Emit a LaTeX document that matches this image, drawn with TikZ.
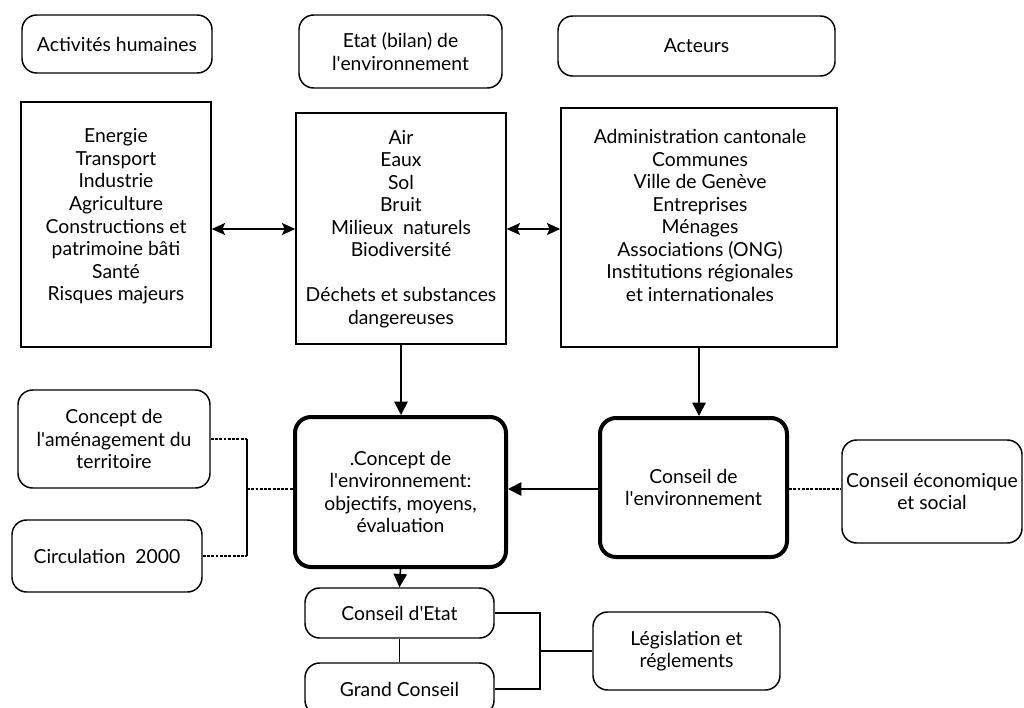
\documentclass[tikz,border=0pt]{standalone}
\usepackage{fontspec}
\setmainfont{Lato}
\usetikzlibrary{arrows.meta}
\newcommand{\ap}{\textquotesingle}
\begin{document}
\begin{tikzpicture}[
  x=0.75pt, y=-0.75pt,
  every node/.style={font=\fontsize{14.5}{16.9}\selectfont, align=center, inner sep=0pt},
  roundbox/.style={draw, line width=1.1pt, rounded corners=11pt},
  plainbox/.style={draw, line width=1.1pt},
  keybox/.style={draw, line width=3pt, rounded corners=12pt},
  listtext/.style={},
  link/.style={line width=1.2pt},
  dashlink/.style={line width=1.1pt, dash pattern=on 2.2pt off 1pt},
  arrowlink/.style={line width=1.2pt, -{Triangle[length=10pt,width=10pt]}},
  biarrow/.style={line width=1.2pt, {Stealth[length=10pt,width=9pt,inset=2pt]}-{Stealth[length=10pt,width=9pt,inset=2pt]}}
]
\clip (0,0) rectangle (1024,707);
\fill[white] (0,0) rectangle (1024,707);

% column headings
\node[roundbox, minimum width=142.5pt, minimum height=43.5pt] (activites) at (117,44) {Activités humaines};
\node[roundbox, minimum width=152.25pt, minimum height=54.75pt] (etat) at (400.5,51.5) {Etat (bilan) de\\l\ap environnement};
\node[roundbox, minimum width=207.75pt, minimum height=45pt] (acteurs) at (696.5,46) {Acteurs};

% the three lists
\node[plainbox, minimum width=142.5pt, minimum height=183.75pt] (secteurs) at (116,224.5) {};
\node[listtext] (secteurs-list) at (116,216.5) {Energie\\Transport\\Industrie\\Agriculture\\Constructions et\\patrimoine bâti\\Santé\\Risques majeurs};

\node[plainbox, minimum width=157.5pt, minimum height=173.25pt] (milieux) at (401,228.5) {};
\node[listtext] (milieux-list) at (401,229) {Air\\Eaux\\Sol\\Bruit\\Milieux\ \ naturels\\Biodiversité\\[16.9pt]Déchets et substances\\dangereuses};

\node[plainbox, minimum width=207pt, minimum height=179.25pt] (partenaires) at (699,227.5) {};
\node[listtext] (partenaires-list) at (700,215.5) {Administration cantonale\\Communes\\Ville de Genève\\Entreprises\\Ménages\\Associations (ONG)\\Institutions régionales\\et internationales};

\coordinate (row) at (0,229);
\draw[biarrow] (secteurs.east |- row) -- (milieux.west |- row);
\draw[biarrow] (milieux.east |- row) -- (partenaires.west |- row);

% central concept and councils
\node[keybox, minimum width=158.25pt, minimum height=112.5pt] (concept) at (400.5,492) {.Concept de\\l\ap environnement:\\objectifs,\ moyens,\\évaluation};
\node[keybox, minimum width=140.25pt, minimum height=104.25pt] (conseil) at (693.5,487.5) {Conseil de\\l\ap environnement};
\node[roundbox, minimum width=135pt, minimum height=77.25pt] (eco) at (932,491.5) {Conseil économique\\et social};

\node[roundbox, minimum width=144pt, minimum height=73.5pt] (amenagement) at (114,439) {Concept de\\l\ap aménagement du\\territoire};
\node[roundbox, minimum width=142.5pt, minimum height=54pt] (circulation) at (107,556) {Circulation\ \ 2000};

\coordinate (row2) at (0,489);
\coordinate (join) at (247,489);
\draw[dashlink] (amenagement.east) -- (amenagement.east -| join);
\draw[link] (amenagement.east -| join) -- (circulation.east -| join);
\draw[dashlink] (circulation.east) -- (circulation.east -| join);
\draw[dashlink] (join) -- (concept.west |- join);

\draw[arrowlink] (milieux.south) -- (milieux.south |- concept.north);
\draw[arrowlink] (partenaires.south) -- (partenaires.south |- conseil.north);
\draw[arrowlink] (conseil.west |- row2) -- (concept.east |- row2);
\draw[dashlink] (conseil.east |- row2) -- (eco.west |- row2);

% authorities and legislation
\node[roundbox, minimum width=141.75pt, minimum height=37.5pt] (cetat) at (399.5,613) {Conseil d\ap Etat};
\node[roundbox, minimum width=141.75pt, minimum height=39pt] (gconseil) at (399.5,689) {Grand Conseil};
\node[roundbox, minimum width=140.25pt, minimum height=58.5pt] (legislation) at (686.5,651) {Législation et\\réglements};

\draw[arrowlink] (concept.south) -- (cetat.north);
\draw[link] (cetat.south) -- (gconseil.north);
\coordinate (bus) at (540,651);
\draw[link] (cetat.east) -- (cetat.east -| bus) -- (gconseil.east -| bus) -- (gconseil.east);
\draw[link] (bus) -- (legislation.west);
\end{tikzpicture}
\end{document}
